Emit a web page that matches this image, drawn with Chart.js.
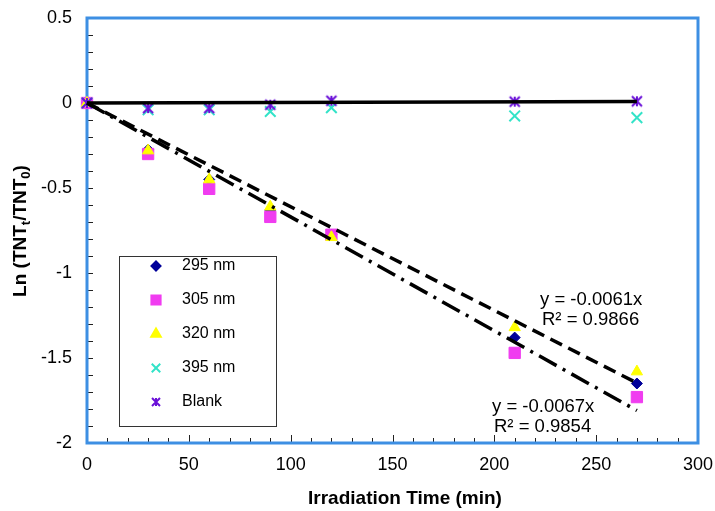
<!DOCTYPE html>
<html>
<head>
<meta charset="utf-8">
<script src="https://cdn.jsdelivr.net/npm/chart.js@4.4.1/dist/chart.umd.min.js"></script>
<style>
  html, body { margin: 0; padding: 0; background: #fff; }
</style>
</head>
<body>
<canvas id="chart" width="715" height="511"></canvas>
<script>
// irradiation times (min)
const times = [0, 30, 60, 90, 120, 210, 270];
// Ln(TNTt/TNT0) per wavelength
const nm295 = [0, -0.275, -0.45, -0.63, -0.775, -1.38, -1.65];
const nm305 = [0, -0.30, -0.505, -0.67, -0.775, -1.47, -1.73];
const nm320 = [0, -0.28, -0.45, -0.61, -0.79, -1.32, -1.58];
const nm395 = [0, -0.04, -0.04, -0.05, -0.028, -0.076, -0.086];
const blank = [0, -0.03, -0.03, -0.01, 0.013, 0.008, 0.01];

const xTicks = [0, 50, 100, 150, 200, 250, 300];
const yTicks = [0.5, 0, -0.5, -1, -1.5, -2];

// trendlines (forced through origin)
const fitUpperSlope = -0.0061;
const fitLowerSlope = -0.0067;
const fitBlankSlope = 0.00003;
const fitEnd = 270;

const seriesNames = ['295 nm', '305 nm', '320 nm', '395 nm', 'Blank'];
const seriesColors = ['#000099', '#f03cf0', '#ffff00', '#33e3c8', '#6a10d8'];

const BLUE = '#3d8fe3';
const FONT = '"Liberation Sans", Arial, sans-serif';

function toPoints(ys) {
    return times.map((t, i) => ({ x: t, y: ys[i] }));
}

function starMarker(size, color) {
    // x with a vertical bar, like the spreadsheet "star" marker
    const c = document.createElement('canvas');
    c.width = size + 4;
    c.height = size + 4;
    const g = c.getContext('2d');
    const m = (size + 4) / 2, h = size / 2;
    g.strokeStyle = color;
    g.lineWidth = 2;
    g.beginPath();
    g.moveTo(m - h, m - h); g.lineTo(m + h, m + h);
    g.moveTo(m + h, m - h); g.lineTo(m - h, m + h);
    g.moveTo(m, m - h); g.lineTo(m, m + h);
    g.stroke();
    return c;
}

const blankStar = starMarker(10, seriesColors[4]);
const blankStarSmall = starMarker(8, seriesColors[4]);

function fitLine(slope, dash, order) {
    return {
        type: 'line',
        data: [{ x: 0, y: 0 }, { x: fitEnd, y: slope * fitEnd }],
        borderColor: '#000',
        borderWidth: 3.5,
        borderDash: dash,
        pointRadius: 0,
        fill: false,
        tension: 0,
        clip: false,
        order: order
    };
}

const framePlugin = {
    id: 'frame',
    beforeDatasetsDraw(chart) {
        const { ctx, chartArea: a, scales } = chart;
        ctx.save();
        // ticks, inside the plot
        ctx.strokeStyle = '#222';
        ctx.lineWidth = 1;
        ctx.beginPath();
        for (let i = -20; i <= 5; i++) {
            const y = Math.round(scales.y.getPixelForValue(i / 10)) + 0.5;
            ctx.moveTo(a.left, y);
            ctx.lineTo(a.left + 6, y);
        }
        for (let i = 0; i <= 30; i++) {
            const x = Math.round(scales.x.getPixelForValue(i * 10)) + 0.5;
            ctx.moveTo(x, a.bottom);
            ctx.lineTo(x, a.bottom - (i % 5 === 0 ? 8 : 5));
        }
        ctx.stroke();
        // blue frame
        ctx.strokeStyle = BLUE;
        ctx.lineWidth = 3;
        ctx.strokeRect(a.left, a.top, a.right - a.left, a.bottom - a.top);
        ctx.restore();
    },
    afterDraw(chart) {
        const { ctx, chartArea: a, scales } = chart;
        ctx.save();
        ctx.fillStyle = '#000';

        // y tick labels
        ctx.font = '18px ' + FONT;
        ctx.textAlign = 'right';
        ctx.textBaseline = 'middle';
        yTicks.forEach(v => {
            ctx.fillText(String(v), a.left - 15, scales.y.getPixelForValue(v));
        });

        // x tick labels
        ctx.textAlign = 'center';
        xTicks.forEach(v => {
            const w = ctx.measureText(String(v)).width;
            let x = scales.x.getPixelForValue(v);
            x = Math.min(x, 714 - w / 2);
            ctx.fillText(String(v), x, a.bottom + 22);
        });

        // axis titles
        ctx.font = 'bold 19px ' + FONT;
        ctx.fillText('Irradiation Time (min)', 405, a.bottom + 56);

        ctx.save();
        ctx.translate(21, 231);
        ctx.rotate(-Math.PI / 2);
        const parts = [
            ['Ln (TNT', 'bold 19px ', 0],
            ['t', 'bold 13px ', 5],
            ['/TNT', 'bold 19px ', 0],
            ['0', 'bold 13px ', 5],
            [')', 'bold 19px ', 0]
        ];
        let total = 0;
        parts.forEach(p => { ctx.font = p[1] + FONT; total += ctx.measureText(p[0]).width; });
        let px = -total / 2;
        ctx.textAlign = 'left';
        parts.forEach(p => {
            ctx.font = p[1] + FONT;
            ctx.fillText(p[0], px, p[2]);
            px += ctx.measureText(p[0]).width;
        });
        ctx.restore();

        // trendline equations
        ctx.font = '18.5px ' + FONT;
        ctx.textAlign = 'left';
        ctx.fillText('y = -0.0061x', 540, 300);
        ctx.fillText('R\u00b2 = 0.9866', 542, 320);
        ctx.fillText('y = -0.0067x', 492, 407);
        ctx.fillText('R\u00b2 = 0.9854', 494, 427);

        // legend box
        ctx.fillStyle = '#fff';
        ctx.fillRect(119.5, 256.5, 157, 170);
        ctx.strokeStyle = '#333';
        ctx.lineWidth = 1;
        ctx.strokeRect(119.5, 256.5, 157, 170);
        const styles = ['rectRot', 'rect', 'triangle', 'crossRot', blankStarSmall];
        const radii = [4.5, 6.5, 5.5, 6, 5];
        ctx.font = '16px ' + FONT;
        ctx.textBaseline = 'middle';
        seriesNames.forEach((name, i) => {
            const y = 266 + i * 34;
            ctx.fillStyle = seriesColors[i];
            ctx.strokeStyle = seriesColors[i];
            ctx.lineWidth = 2;
            Chart.helpers.drawPoint(ctx, { pointStyle: styles[i], radius: radii[i], rotation: 0, borderWidth: 2 }, 156, y);
            ctx.fillStyle = '#000';
            ctx.fillText(name, 182, y);
        });
        ctx.restore();
    }
};

new Chart(document.getElementById('chart'), {
    type: 'scatter',
    data: {
        datasets: [
            fitLine(fitUpperSlope, [13, 7], 0),
            fitLine(fitLowerSlope, [20, 7, 3, 7], 0),
            fitLine(fitBlankSlope, [], 0),
            {
                label: seriesNames[0], data: toPoints(nm295), pointStyle: 'rectRot', pointRadius: 5.5,
                backgroundColor: seriesColors[0], borderColor: seriesColors[0], borderWidth: 1, clip: false, order: 5
            },
            {
                label: seriesNames[1], data: toPoints(nm305), pointStyle: 'rect', pointRadius: 8,
                backgroundColor: seriesColors[1], borderColor: seriesColors[1], borderWidth: 1, clip: false, order: 4
            },
            {
                label: seriesNames[2], data: toPoints(nm320), pointStyle: 'triangle', pointRadius: 6.5,
                backgroundColor: seriesColors[2], borderColor: seriesColors[2], borderWidth: 1, clip: false, order: 3
            },
            {
                label: seriesNames[3], data: toPoints(nm395), pointStyle: 'crossRot', pointRadius: 7.5,
                backgroundColor: seriesColors[3], borderColor: seriesColors[3], borderWidth: 2, clip: false, order: 2
            },
            {
                label: seriesNames[4], data: toPoints(blank), pointStyle: blankStar, pointRadius: 7,
                backgroundColor: seriesColors[4], borderColor: seriesColors[4], borderWidth: 2, clip: false, order: 1
            }
        ]
    },
    options: {
        responsive: false,
        animation: false,
        events: [],
        layout: { padding: { left: 0, right: 17, top: 18, bottom: 0 } },
        plugins: { legend: { display: false }, tooltip: { enabled: false } },
        scales: {
            x: {
                type: 'linear', min: 0, max: 300,
                ticks: { display: false }, grid: { display: false }, border: { display: false },
                afterFit: s => { s.height = 68; }
            },
            y: {
                type: 'linear', min: -2, max: 0.5,
                ticks: { display: false }, grid: { display: false }, border: { display: false },
                afterFit: s => { s.width = 87; }
            }
        }
    },
    plugins: [framePlugin]
});
</script>
</body>
</html>
